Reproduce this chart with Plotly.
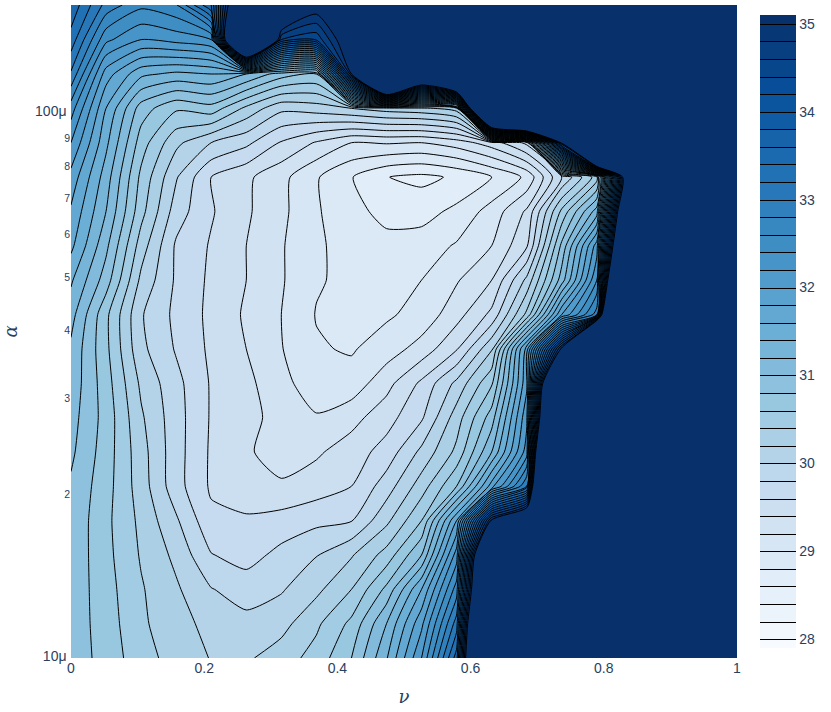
import plotly.graph_objects as go
import plotly.colors as pc

NU = [0, 0.0526, 0.1053, 0.1579, 0.2105, 0.2632, 0.3158, 0.3684, 0.4211, 0.4737,
      0.5263, 0.5789, 0.6316, 0.6842, 0.7368, 0.7895, 0.8421, 0.8947, 0.9474, 1]
ALPHA = [1.000e-5, 1.156e-5, 1.337e-5, 1.546e-5, 1.788e-5, 2.068e-5, 2.391e-5, 2.766e-5,
         3.198e-5, 3.699e-5, 4.278e-5, 4.947e-5, 5.722e-5, 6.617e-5, 7.652e-5, 8.85e-5,
         1.0235e-4, 1.1836e-4, 1.3689e-4, 1.5849e-4]
H = 50
Z = [
 [30.92,30.72,30.48,30.32,30.19,30.17,30.30,30.48,30.80,31.38,32.20,33.50,39.3,H,H,H,H,H,H,H],
 [30.92,30.70,30.44,30.26,30.15,30.06,30.13,30.36,30.65,31.20,31.95,33.10,39.1,H,H,H,H,H,H,H],
 [30.93,30.68,30.42,30.23,30.01,29.91,29.98,30.15,30.40,30.85,31.60,32.70,38.1,H,H,H,H,H,H,H],
 [30.94,30.66,30.38,30.15,29.81,29.72,29.86,29.99,30.18,30.48,31.00,32.30,37.55,H,H,H,H,H,H,H],
 [30.95,30.65,30.35,30.03,29.65,29.63,29.68,29.75,29.79,30.15,30.60,31.80,35.1,36.2,H,H,H,H,H,H],
 [30.97,30.68,30.30,29.88,29.57,29.48,29.43,29.50,29.60,29.90,30.30,30.80,31.90,33.00,44.7,H,H,H,H,H],
 [31.04,30.70,30.28,29.88,29.57,29.43,29.30,29.37,29.50,29.68,30.05,30.45,31.20,32.30,42.8,H,H,H,H,H],
 [31.08,30.72,30.23,29.88,29.58,29.47,29.32,29.22,29.33,29.52,29.77,30.30,30.90,32.15,39.8,H,H,H,H,H],
 [31.13,30.69,30.16,29.86,29.58,29.45,29.27,29.07,29.08,29.33,29.64,30.05,30.57,31.95,38.6,H,H,H,H,H],
 [31.16,30.65,30.05,29.78,29.56,29.40,29.21,29.02,28.98,29.10,29.28,29.58,30.17,31.90,35.1,45,H,H,H,H],
 [31.28,30.65,30.02,29.75,29.55,29.37,29.20,28.99,28.93,28.97,29.07,29.32,29.65,30.45,32.00,32.90,47.6,H,H,H],
 [31.43,30.90,30.15,29.77,29.56,29.40,29.22,29.02,28.95,28.93,29.00,29.18,29.40,30.05,31.10,32.40,40.7,H,H,H],
 [31.65,31.05,30.30,29.77,29.58,29.40,29.22,29.02,28.95,28.88,28.90,29.02,29.20,29.57,30.85,32.10,38.4,H,H,H],
 [31.77,31.20,30.47,29.90,29.62,29.43,29.25,29.02,28.88,28.72,28.72,28.85,29.08,29.43,30.45,31.30,37.5,H,H,H],
 [31.93,31.30,30.55,30.02,29.60,29.44,29.26,29.02,28.81,28.605,28.55,28.63,28.80,29.04,29.80,30.50,36.6,H,H,H],
 [32.20,31.45,30.70,30.25,30.00,29.85,29.58,29.38,29.20,29.22,29.20,29.30,29.50,29.85,35.1,45,H,H,H,H],
 [32.50,31.60,30.90,30.63,30.72,30.35,30.05,30.10,30.20,30.30,30.35,30.50,42,45,H,H,H,H,H,H],
 [32.97,31.90,31.45,31.35,31.40,31.20,30.90,30.80,35.0,42,37.2,40,H,H,H,H,H,H,H,H],
 [33.32,32.45,32.20,32.28,32.40,39,34.6,34.45,35.4,H,H,H,H,H,H,H,H,H,H,H],
 [33.55,32.93,32.65,32.78,33.60,36.5,36.1,35.2,H,H,H,H,H,H,H,H,H,H,H,H],
]

fig = go.Figure(go.Contour(
    x=NU, y=ALPHA, z=Z,
    colorscale=pc.sequential.Blues,
    contours=dict(start=28, end=35, size=0.2, coloring="fill"),
    line=dict(color="black", width=1, smoothing=0.6),
    colorbar=dict(thickness=36, tickfont=dict(size=14, color="#2a3f5f"), outlinewidth=0),
))
fig.update_layout(
    width=831, height=712, margin=dict(l=71, r=94, t=5, b=54),
    font=dict(family="Liberation Sans, Arial, sans-serif", size=14, color="#2a3f5f"),
    paper_bgcolor="white", plot_bgcolor="white",
    xaxis=dict(title=dict(text="<i>ν</i>", font=dict(family="DejaVu Serif", size=18)),
               range=[0, 1], dtick=0.2, showgrid=False, zeroline=False, ticks="", automargin=False),
    yaxis=dict(type="log", title=dict(text="<i>α</i>", font=dict(family="DejaVu Serif", size=18)),
               range=[-5, -3.8], showgrid=False, zeroline=False, ticks="", automargin=False,
               exponentformat="SI"),
)
fig.write_html("out.html", post_script="document.body.style.margin='0';",
               config=dict(displayModeBar=False))
